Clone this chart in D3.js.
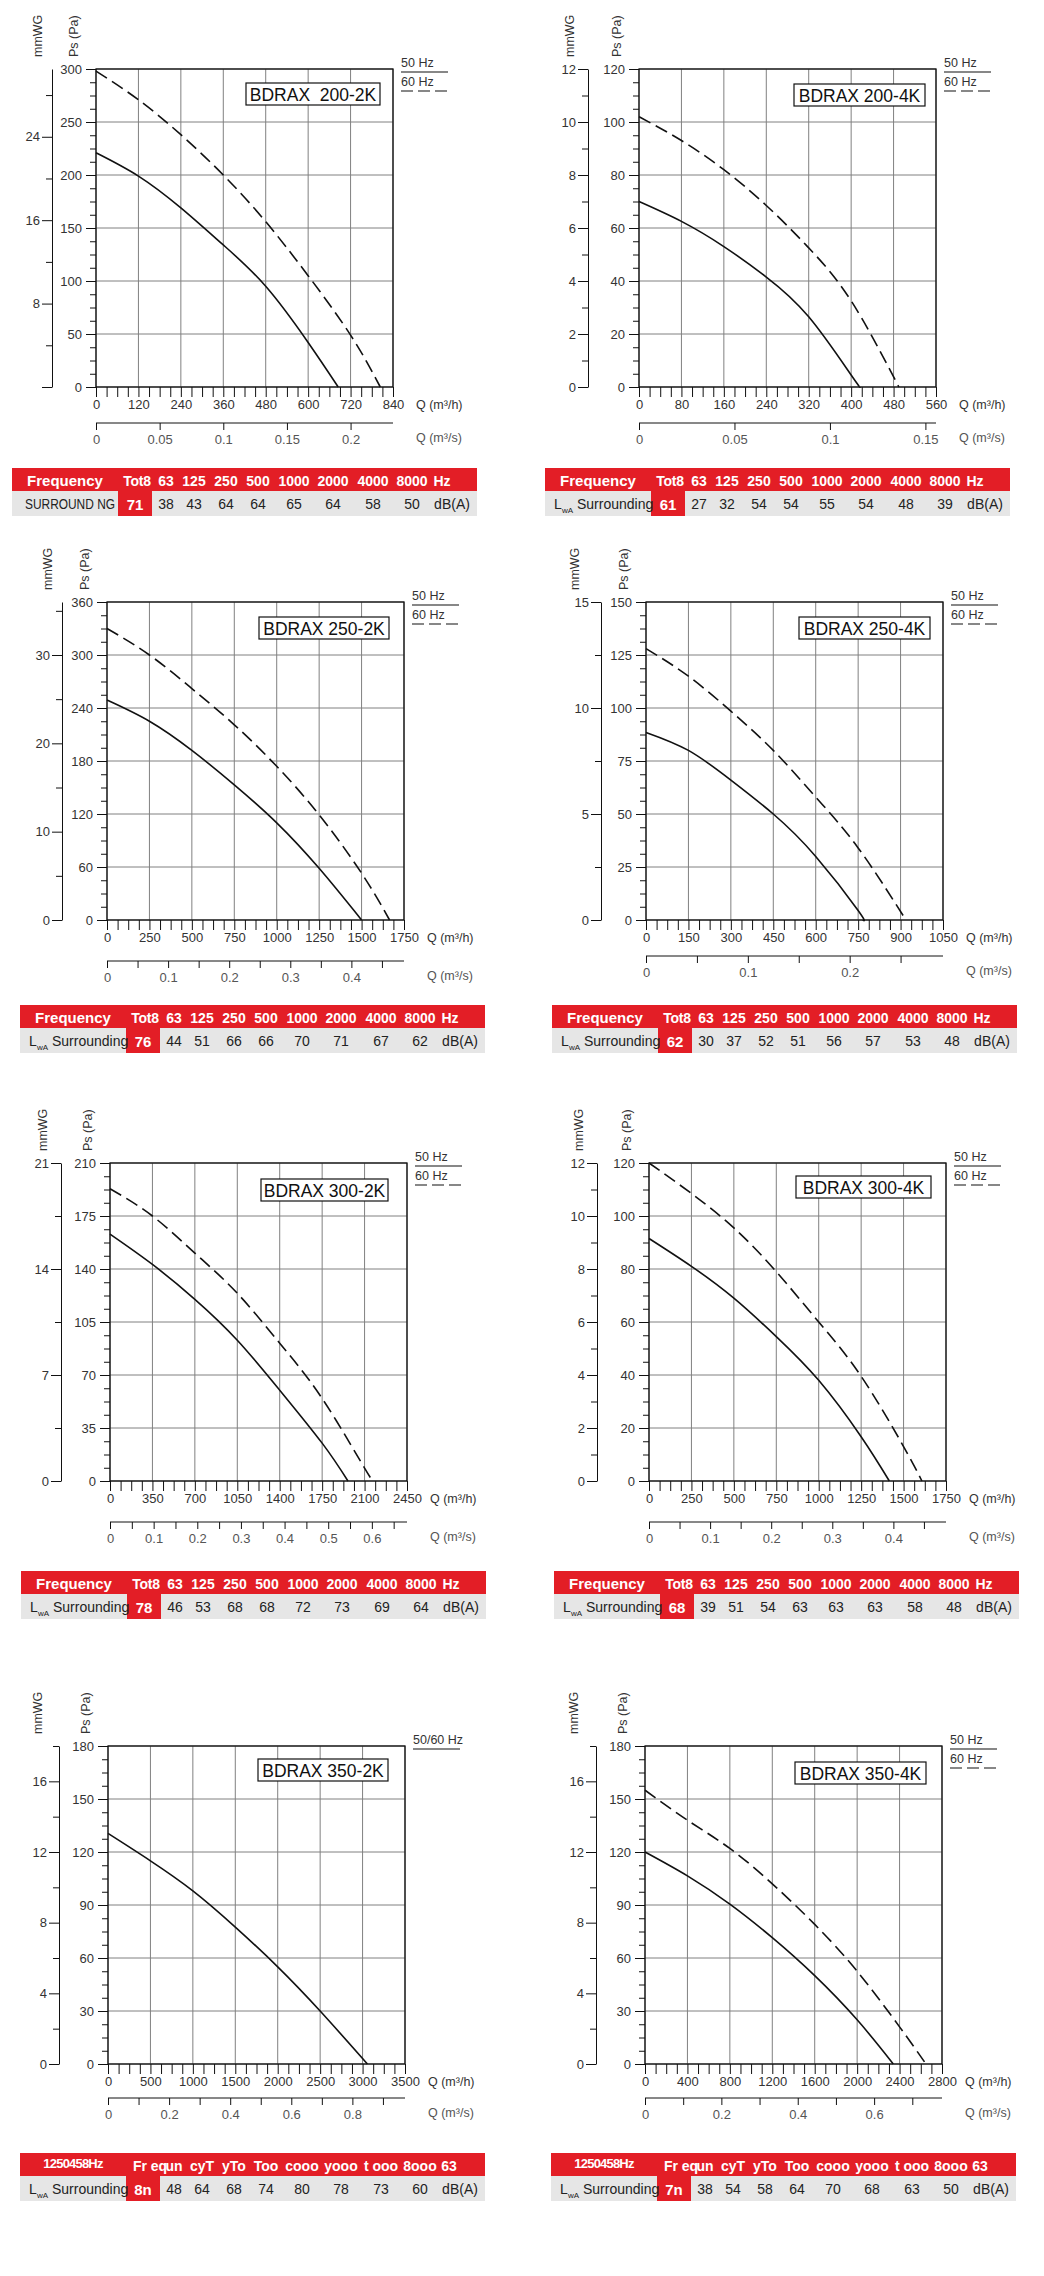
<!DOCTYPE html>
<html>
<head>
<meta charset="utf-8">
<script src="https://cdn.jsdelivr.net/npm/d3@7"></script>
<style>
body { margin: 0; background: #fff; }
svg { display: block; font-family: "Liberation Sans", Arial, sans-serif; }
</style>
</head>
<body>
<script>
// fan models, one chart each
var models = ["BDRAX  200-2K", "BDRAX 200-4K", "BDRAX 250-2K", "BDRAX 250-4K",
              "BDRAX 300-2K", "BDRAX 300-4K", "BDRAX 350-2K", "BDRAX 350-4K"];

// axis ranges
var qMax   = [840, 560, 1750, 1050, 2450, 1750, 3500, 2800];
var qStep  = [120, 80, 250, 150, 350, 250, 500, 400];
var paMax  = [300, 120, 360, 150, 210, 120, 180, 180];
var paStep = [50, 20, 60, 25, 35, 20, 30, 30];
var mmMax  = [30.5, 12, 36, 15, 21, 12, 18, 18];
var mmStep = [8, 2, 10, 5, 7, 2, 4, 4];
var qsLabelStep = [0.05, 0.05, 0.1, 0.1, 0.1, 0.1, 0.2, 0.2];
var qsTickStep  = [0.05, 0.05, 0.05, 0.05, 0.05, 0.05, 0.1, 0.1];

// curves [Q m3/h, Ps Pa]
var curve50 = [
  [[0,221],[120,199],[240,169],[360,134],[480,95],[600,42],[685,0]],
  [[0,70],[80,62.5],[160,53],[240,41.5],[320,26.5],[400,4.5],[417,0]],
  [[0,249],[250,225],[500,192],[750,153],[1000,110],[1250,58.5],[1500,0]],
  [[0,88.5],[150,80],[300,66],[450,50],[600,30],[750,4.5],[766,0]],
  [[0,163],[350,143],[700,120],[1050,93],[1400,60],[1750,25],[1963,0]],
  [[0,91.5],[250,81],[500,69],[750,54.5],[1000,38],[1250,16.7],[1416,0]],
  [[0,130.5],[500,115],[1000,98],[1500,77.5],[2000,55],[2500,30],[3057,0]],
  [[0,120],[400,106.5],[800,90.5],[1200,71.5],[1600,50],[2000,25],[2341,0]]
];
var curve60 = [
  [[0,298],[120,271],[240,238],[360,200],[480,156],[600,105],[720,49],[804,0]],
  [[0,102],[80,93],[160,82],[240,68.5],[320,52.5],[400,32.5],[490,0]],
  [[0,330],[250,300],[500,262],[750,221],[1000,174],[1250,119],[1500,53],[1665,0]],
  [[0,128],[150,115],[300,98.5],[450,80],[600,58],[750,34],[919,0]],
  [[0,193],[350,175],[700,150.5],[1050,124],[1400,91],[1750,54.5],[2100,8.5],[2175,0]],
  [[0,120],[250,108.5],[500,95.5],[750,79],[1000,60],[1250,39.5],[1500,13],[1608,0]],
  null,
  [[0,155],[400,138],[800,122],[1200,102],[1600,79],[2000,52.5],[2400,21],[2649,0]]
];
var legendText = [["50 Hz","60 Hz"],["50 Hz","60 Hz"],["50 Hz","60 Hz"],["50 Hz","60 Hz"],
                  ["50 Hz","60 Hz"],["50 Hz","60 Hz"],["50/60 Hz"],["50 Hz","60 Hz"]];

// sound tables
var headStd = ["Frequency","Tot8","63","125","250","500","1000","2000","4000","8000","Hz"];
var headOdd = ["1250458Hz","Fr eq","un","cyT","yTo","Too","cooo","yooo","t ooo","8ooo","63"];
var headers = [headStd, headStd, headStd, headStd, headStd, headStd, headOdd, headOdd];
var rowLabels = ["SURROUND NG","Surrounding","Surrounding","Surrounding","Surrounding","Surrounding","Surrounding","Surrounding"];
var totals = ["71","61","76","62","78","68","8n","7n"];
var bands = [
  [38,43,64,64,65,64,58,50],
  [27,32,54,54,55,54,48,39],
  [44,51,66,66,70,71,67,62],
  [30,37,52,51,56,57,53,48],
  [46,53,68,68,72,73,69,64],
  [39,51,54,63,63,63,58,48],
  [48,64,68,74,80,78,73,60],
  [38,54,58,64,70,68,63,50]
];

// page layout of each panel
var W = 297, H = 318;
var layout = [
  {x:96,  y:69,   mm:52,  mmT:38,  qs:423,  tx:12,  ty:468,  bx:246, by:83,   bw:134, zeroLab:false},
  {x:639, y:69,   mm:588, mmT:570, qs:423,  tx:545, ty:468,  bx:794, by:84,   bw:131, zeroLab:true},
  {x:107, y:602,  mm:62,  mmT:48,  qs:961,  tx:20,  ty:1005, bx:259, by:617,  bw:130, zeroLab:true},
  {x:646, y:602,  mm:601, mmT:575, qs:956,  tx:552, ty:1005, bx:799, by:617,  bw:131, zeroLab:true},
  {x:110, y:1163, mm:61,  mmT:43,  qs:1522, tx:21,  ty:1571, bx:261, by:1179, bw:127, zeroLab:true},
  {x:649, y:1163, mm:597, mmT:579, qs:1522, tx:554, ty:1571, bx:796, by:1176, bw:135, zeroLab:true},
  {x:108, y:1746, mm:59,  mmT:38,  qs:2098, tx:20,  ty:2153, bx:258, by:1759, bw:130, zeroLab:true},
  {x:645, y:1746, mm:596, mmT:574, qs:2098, tx:551, ty:2153, bx:795, by:1762, bw:131, zeroLab:true}
];
var colX = [154,182,214,246,282,321,361,400];
var red = "#e31e26", rowGrey = "#e6e6e6", txt = "#333";
var FONT = "Liberation Sans, Arial, sans-serif";

var svg = d3.select("body").append("svg")
  .attr("width", 1044)
  .attr("height", 2276);
svg.append("rect").attr("width", 1044).attr("height", 2276).attr("fill", "#fff");

function isMult(v, s) { return Math.abs(v / s - Math.round(v / s)) < 1e-6; }

function styleAxis(sel, size, color) {
  sel.attr("font-family", FONT).attr("font-size", size);
  sel.selectAll("text").attr("fill", color);
  sel.selectAll("line").attr("stroke", "#111");
  sel.select(".domain").attr("stroke", "#111");
}

models.forEach(function(name, i) {
  var L = layout[i];
  var g = svg.append("g");
  var eps = 1e-9;

  var x = d3.scaleLinear().domain([0, qMax[i]]).range([L.x, L.x + W]);
  var y = d3.scaleLinear().domain([0, paMax[i]]).range([L.y + H, L.y]);
  var mm = d3.scaleLinear().domain([0, mmMax[i]]).range([L.y + H, L.y]);
  var qs = d3.scaleLinear().domain([0, qMax[i] / 3600]).range([L.x, L.x + W]);

  var xMajor = d3.range(0, qMax[i] + eps, qStep[i]);
  var xAll = d3.range(0, qMax[i] + eps, qStep[i] / 4);
  var yMajor = d3.range(0, paMax[i] + eps, paStep[i]);
  var yMinor = d3.range(0, paMax[i] + eps, paStep[i] / 4).filter(function(v) { return !isMult(v, paStep[i]); });
  var mmMajor = d3.range(0, mmMax[i] + eps, mmStep[i]);
  var mmMinor = d3.range(mmStep[i] / 2, mmMax[i] + eps, mmStep[i]);
  var qsTicks = d3.range(0, qMax[i] / 3600 + eps, qsTickStep[i]).map(function(v) { return +v.toFixed(3); });

  // grid
  g.append("g").selectAll("line").data(xMajor).join("line")
    .attr("x1", function(d) { return x(d); }).attr("x2", function(d) { return x(d); })
    .attr("y1", L.y).attr("y2", L.y + H)
    .attr("stroke", "#808080").attr("stroke-width", 1);
  g.append("g").selectAll("line").data(yMajor).join("line")
    .attr("y1", function(d) { return y(d); }).attr("y2", function(d) { return y(d); })
    .attr("x1", L.x).attr("x2", L.x + W)
    .attr("stroke", "#808080").attr("stroke-width", 1);

  // curves
  var line = d3.line()
    .x(function(d) { return x(d[0]); })
    .y(function(d) { return y(d[1]); })
    .curve(d3.curveNatural);
  if (curve60[i]) {
    g.append("path").datum(curve60[i]).attr("d", line)
      .attr("fill", "none").attr("stroke", "#111").attr("stroke-width", 1.6)
      .attr("stroke-dasharray", "13,6");
  }
  g.append("path").datum(curve50[i]).attr("d", line)
    .attr("fill", "none").attr("stroke", "#111").attr("stroke-width", 1.6);

  // frame
  g.append("rect").attr("x", L.x).attr("y", L.y).attr("width", W).attr("height", H)
    .attr("fill", "none").attr("stroke", "#111").attr("stroke-width", 1.3);

  // Pa axis
  var ay = g.append("g").attr("transform", "translate(" + L.x + ",0)")
    .call(d3.axisLeft(y).tickValues(yMajor).tickSize(10).tickPadding(4).tickSizeOuter(0));
  ay.select(".domain").remove();
  styleAxis(ay, 13, txt);
  var ay2 = g.append("g").attr("transform", "translate(" + L.x + ",0)")
    .call(d3.axisLeft(y).tickValues(yMinor).tickSize(6).tickFormat(""));
  ay2.select(".domain").remove();
  styleAxis(ay2, 13, txt);

  // mmWG axis
  var am = g.append("g").attr("transform", "translate(" + L.mm + ",0)")
    .call(d3.axisLeft(mm).tickValues(mmMajor).tickSize(10).tickPadding(2).tickSizeOuter(0)
      .tickFormat(function(d) { return (d === 0 && !L.zeroLab) ? "" : d; }));
  styleAxis(am, 13, txt);
  var am2 = g.append("g").attr("transform", "translate(" + L.mm + ",0)")
    .call(d3.axisLeft(mm).tickValues(mmMinor).tickSize(6).tickFormat(""));
  am2.select(".domain").remove();
  styleAxis(am2, 13, txt);

  // Q m3/h axis
  var ax = g.append("g").attr("transform", "translate(0," + (L.y + H) + ")")
    .call(d3.axisBottom(x).tickValues(xAll).tickSize(10).tickPadding(3)
      .tickFormat(function(d) { return isMult(d, qStep[i]) ? d : ""; }));
  ax.select(".domain").remove();
  styleAxis(ax, 13, txt);

  // Q m3/s axis
  var as = g.append("g").attr("transform", "translate(0," + L.qs + ")")
    .call(d3.axisBottom(qs).tickValues(qsTicks).tickSize(7).tickPadding(5).tickSizeOuter(0)
      .tickFormat(function(d) { return isMult(d, qsLabelStep[i]) ? String(+d.toFixed(2)) : ""; }));
  as.select(".domain").attr("d", "M" + L.x + ",0H" + (L.x + W));
  styleAxis(as, 13, "#555");

  // axis titles
  g.append("text").attr("transform", "translate(" + (L.mmT + 4) + "," + (L.y - 12) + ") rotate(-90)")
    .attr("font-size", 12.5).attr("fill", txt).text("mmWG");
  g.append("text").attr("transform", "translate(" + (L.x - 18) + "," + (L.y - 12) + ") rotate(-90)")
    .attr("font-size", 12.5).attr("fill", txt).text("Ps (Pa)");
  g.append("text").attr("x", L.x + W + 23).attr("y", L.y + H + 22)
    .attr("font-size", 12.5).attr("fill", txt).text("Q (m³/h)");
  g.append("text").attr("x", L.x + W + 23).attr("y", L.qs + 19)
    .attr("font-size", 12.5).attr("fill", "#555").text("Q (m³/s)");

  // legend
  var lx = L.x + W + 8;
  legendText[i].forEach(function(t, k) {
    g.append("text").attr("x", lx).attr("y", L.y - 2 + k * 19)
      .attr("font-size", 12.5).attr("fill", txt).text(t);
    g.append("line").attr("x1", lx).attr("x2", lx + 47)
      .attr("y1", L.y + 3 + k * 19).attr("y2", L.y + 3 + k * 19)
      .attr("stroke", "#111").attr("stroke-width", 1.2)
      .attr("stroke-dasharray", k === 1 ? "12,5" : null);
  });

  // model box
  g.append("rect").attr("x", L.bx).attr("y", L.by).attr("width", L.bw).attr("height", 22)
    .attr("fill", "#fff").attr("stroke", "#111").attr("stroke-width", 1.2);
  g.append("text").attr("x", L.bx + L.bw / 2).attr("y", L.by + 17.5)
    .attr("text-anchor", "middle").attr("font-size", 17.5).attr("fill", "#111")
    .style("white-space", "pre").text(name);

  // sound table
  var t = svg.append("g").attr("transform", "translate(" + L.tx + "," + L.ty + ")");
  t.append("rect").attr("width", 465).attr("height", 23).attr("fill", red);
  t.append("rect").attr("y", 23).attr("width", 465).attr("height", 25).attr("fill", rowGrey);
  t.append("rect").attr("x", 106).attr("y", 23).attr("width", 34).attr("height", 25).attr("fill", red);

  var hd = headers[i];
  var odd = hd === headOdd;
  var hx = [53, odd ? 130 : 125].concat(colX).concat([odd ? 429 : 430]);
  t.selectAll("text.h").data(hd).join("text")
    .attr("class", "h")
    .attr("x", function(d, k) { return hx[k]; })
    .attr("y", function(d, k) { return (odd && k === 0) ? 15 : 17.5; })
    .attr("text-anchor", "middle")
    .attr("font-weight", "bold")
    .attr("font-size", function(d, k) { return k === 0 ? (odd ? 13 : 15) : 14; })
    .attr("letter-spacing", function(d, k) { return (odd && k === 0) ? -0.8 : (k === 1 && !odd ? -0.3 : null); })
    .attr("fill", "#fff")
    .style("white-space", "pre")
    .text(function(d) { return d; });

  if (i === 0) {
    t.append("text").attr("x", 13).attr("y", 41).attr("font-size", 14).attr("fill", "#222")
      .attr("textLength", 90).attr("lengthAdjust", "spacingAndGlyphs").style("white-space", "pre").text(rowLabels[i]);
  } else {
    t.append("text").attr("x", 9).attr("y", 41).attr("font-size", 14).attr("fill", "#222").text("L");
    t.append("text").attr("x", 17).attr("y", 45).attr("font-size", 8).attr("fill", "#222").text("wA");
    t.append("text").attr("x", 32).attr("y", 41).attr("font-size", 14).attr("fill", "#222").text(rowLabels[i]);
  }
  t.append("text").attr("x", 123).attr("y", 42).attr("text-anchor", "middle")
    .attr("font-size", 15).attr("font-weight", "bold").attr("fill", "#fff").text(totals[i]);
  t.selectAll("text.v").data(bands[i]).join("text")
    .attr("class", "v")
    .attr("x", function(d, k) { return colX[k]; })
    .attr("y", 41)
    .attr("text-anchor", "middle").attr("font-size", 14).attr("fill", "#222")
    .text(function(d) { return d; });
  t.append("text").attr("x", 440).attr("y", 41).attr("text-anchor", "middle")
    .attr("font-size", 14).attr("fill", "#222").text("dB(A)");
});
</script>
</body>
</html>
